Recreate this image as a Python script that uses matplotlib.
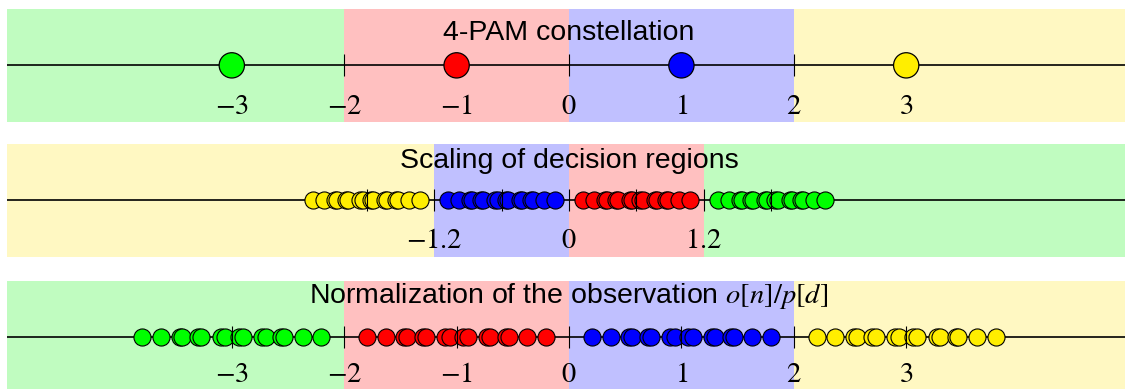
import numpy as np
import matplotlib
matplotlib.use("Agg")
import matplotlib.pyplot as plt

plt.rcParams["mathtext.fontset"] = "stix"
plt.rcParams["font.family"] = ["Liberation Sans", "DejaVu Sans"]

# 4-PAM symbols and their decision-region colours
symbols = [-3, -1, 1, 3]
symbol_colors = ["#00ff00", "#ff0000", "#0000ff", "#ffee00"]
region_colors = {"#00ff00": "#c0fcc0", "#ff0000": "#ffc0c0",
                 "#0000ff": "#c0c0ff", "#ffee00": "#fff8c2"}

# Received observations o[n] per transmitted symbol (channel gain p[d])
p_d = -0.6
obs_green = [1.323, 1.422, 1.521, 1.536, 1.620, 1.638, 1.740, 1.764,
             1.836, 1.860, 1.962, 1.980, 2.064, 2.079, 2.178, 2.277]
obs_red = [0.123, 0.222, 0.321, 0.336, 0.420, 0.438, 0.540, 0.564,
           0.636, 0.660, 0.762, 0.780, 0.864, 0.879, 0.978, 1.077]
obs_blue = [-1.077, -0.978, -0.879, -0.864, -0.780, -0.762, -0.660, -0.636,
            -0.564, -0.540, -0.438, -0.420, -0.336, -0.321, -0.222, -0.123]
obs_yellow = [-2.277, -2.178, -2.079, -2.064, -1.980, -1.962, -1.860, -1.836,
              -1.764, -1.740, -1.638, -1.620, -1.536, -1.521, -1.422, -1.323]
observations = [obs_green, obs_red, obs_blue, obs_yellow]

# Decision thresholds
thresholds = [-2, 0, 2]

# Tick positions and labels per panel
ticks_top = [-3, -2, -1, 0, 1, 2, 3]
labels_top = ["$-3$", "$-2$", "$-1$", "$0$", "$1$", "$2$", "$3$"]
ticks_mid_major = [-1.2, 0, 1.2]
labels_mid = ["$-1.2$", "$0$", "$1.2$"]
ticks_mid_minor = [-1.8, -0.6, 0.6, 1.8]

titles = ["4-PAM constellation",
          "Scaling of decision regions",
          "Normalization of the observation $o[n]/p[d]$"]

W, H = 1125, 389
fig = plt.figure(figsize=(W / 100, H / 100), dpi=100)

x_left, x_right = 7, 1131
panel_tops = [9, 144, 281]
panel_h = 112.7
XMIN, XMAX = -5.0, 5.0


def make_axes(top, pad):
    ax = fig.add_axes([x_left / W, 1 - (top + panel_h) / H,
                       (x_right - x_left) / W, panel_h / H])
    ax.set_xlim(XMIN, XMAX)
    ax.set_ylim(-1, 1)
    for s in ["top", "left", "right"]:
        ax.spines[s].set_visible(False)
    ax.spines["bottom"].set_position(("data", 0))
    ax.spines["bottom"].set_visible(False)
    ax.yaxis.set_visible(False)
    ax.patch.set_visible(False)
    ax.tick_params(axis="x", which="both", direction="inout", length=16.5,
                   width=0.8, color="black", pad=pad, labelsize=20.5)
    ax.axhline(0, color="black", lw=1.2, zorder=0.8)
    return ax


def draw_regions(ax, edges, colors):
    bounds = [XMIN - 1] + list(edges) + [XMAX + 1]
    for lo, hi, c in zip(bounds[:-1], bounds[1:], colors):
        ax.axvspan(lo, hi, color=region_colors[c], lw=0, zorder=0)


# Panel 1: the constellation itself
ax1 = make_axes(panel_tops[0], pad=12.3)
draw_regions(ax1, thresholds, symbol_colors)
ax1.set_xticks(ticks_top, labels_top)
ax1.scatter(symbols, np.zeros(len(symbols)), s=18.2 ** 2, c=symbol_colors,
            edgecolors="black", linewidths=0.9, zorder=3)
ax1.text(0, 1 - 31 / panel_h * 2, titles[0], ha="center", va="baseline",
         fontsize=20.5)

# Panel 2: observations with scaled (and flipped) decision regions
ax2 = make_axes(panel_tops[1], pad=11.5)
scaled = [p_d * t for t in thresholds][::-1]
draw_regions(ax2, scaled, symbol_colors[::-1])
ax2.set_xticks(ticks_mid_major, labels_mid)
ax2.set_xticks(ticks_mid_minor, minor=True)
for obs, c in zip(observations, symbol_colors):
    o = np.sort(np.asarray(obs))
    ax2.scatter(o, np.zeros_like(o), s=12.3 ** 2, c=c, edgecolors="black",
                linewidths=0.8, zorder=1)
ax2.text(0, 1 - 24 / panel_h * 2, titles[1], ha="center", va="baseline",
         fontsize=20.5)

# Panel 3: normalized observations with the original decision regions
ax3 = make_axes(panel_tops[2], pad=9.5)
draw_regions(ax3, thresholds, symbol_colors)
ax3.set_xticks(ticks_top, labels_top)
for obs, c in zip(observations, symbol_colors):
    z = np.sort(np.asarray(obs) / p_d)
    ax3.scatter(z, np.zeros_like(z), s=12.3 ** 2, c=c, edgecolors="black",
                linewidths=0.8, zorder=1)
ax3.text(0, 1 - 22 / panel_h * 2, titles[2], ha="center", va="baseline",
         fontsize=20.5)

fig.savefig("out.png", dpi=100)
